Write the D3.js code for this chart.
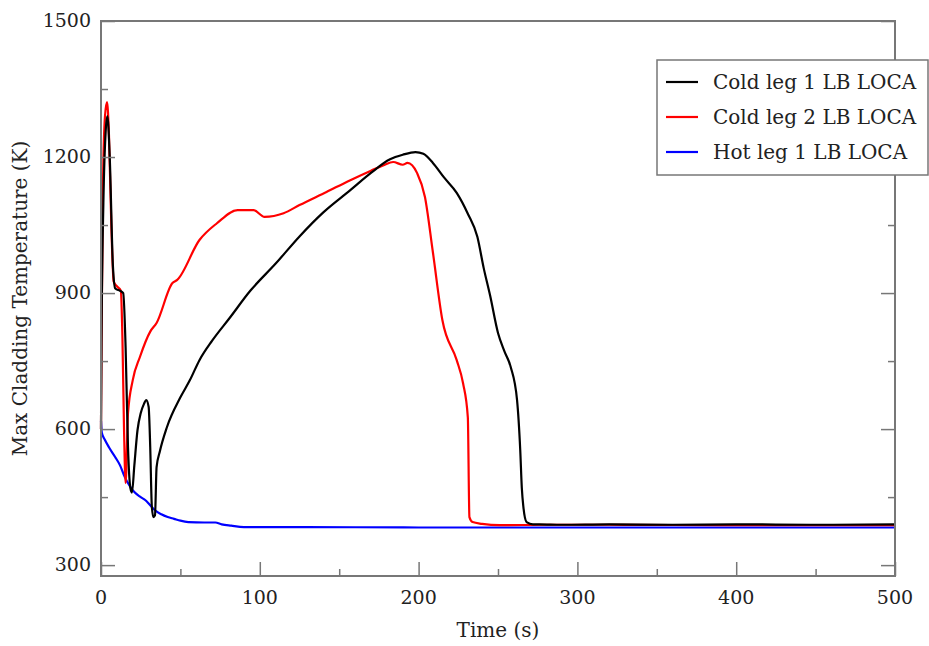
<!DOCTYPE html>
<html>
<head>
<meta charset="utf-8">
<script src="https://cdn.jsdelivr.net/npm/d3@7"></script>
<style>
  html, body { margin: 0; padding: 0; background: #fff; overflow: hidden; }
  svg { display: block; }
  text { font-family: "DejaVu Serif", serif; fill: #222; }
</style>
</head>
<body>
<svg width="929" height="646"></svg>
<script>
const svg = d3.select('svg')

// data
const seriesNames = ['Cold leg 1 LB LOCA', 'Cold leg 2 LB LOCA', 'Hot leg 1 LB LOCA']
const seriesColors = ['#000000', '#ff0000', '#0000ff']

const coldLeg1Time = [0, 0.3, 1.5, 3, 4, 5.5, 7.5, 9, 12, 14, 15.5, 17, 18.5, 19.5, 21, 23, 25, 27, 28.5, 30, 31, 32, 33, 34, 35, 37, 41.5, 50, 56, 62, 70, 81, 94, 110, 125, 140, 157, 170, 182, 190, 198, 203, 209, 216, 224, 231, 237, 241, 245, 250, 254, 258, 262, 264, 265, 266, 268, 272, 276, 290, 320, 360, 400, 450, 500]
const coldLeg1Temp = [600, 790, 1100, 1260, 1290, 1200, 960, 910, 905, 900, 780, 560, 470, 460, 520, 598, 635, 655, 664, 649, 560, 430, 406, 410, 516, 550, 604, 670, 708, 752, 795, 845, 905, 965, 1025, 1078, 1127, 1165, 1195, 1205, 1211, 1207, 1187, 1155, 1121, 1075, 1024, 955, 895, 812, 772, 737, 664, 554, 470, 428, 395, 390, 390, 389, 390, 389, 390, 389, 390]

const coldLeg2Time = [0, 0.3, 1.3, 2.5, 3.8, 5, 6.5, 8, 10, 12.5, 13.5, 14.5, 15.5, 17, 20, 24.5, 31, 35, 45, 48, 62, 73, 86, 96, 103, 115, 125, 142, 157, 170, 178, 184, 190, 193, 199, 204, 209, 215, 224, 228, 231, 232, 234, 240, 251, 280, 320, 400, 500]
const coldLeg2Temp = [600, 790, 1150, 1290, 1321, 1250, 1050, 925, 915, 905, 800, 600, 481, 635, 708, 759, 815, 834, 922, 929, 1017, 1054, 1083, 1083, 1068, 1076, 1094, 1123, 1149, 1170, 1182, 1189, 1183, 1187, 1165, 1112, 990, 840, 752, 701, 626, 406, 395, 391, 388, 389, 389, 388, 388]

const hotLeg1Time = [0, 0.5, 2.5, 5, 9, 12, 15, 18, 21, 25, 28, 31, 34, 38, 42, 46, 50, 55, 65, 72, 76, 82, 90, 120, 200, 300, 400, 500]
const hotLeg1Temp = [618, 592, 576, 560, 538, 520, 494, 475, 461, 450, 443, 432, 421, 412, 406, 402, 398, 395, 394, 394, 390, 387, 384, 384, 383, 383, 383, 383]

const xTicks = [0, 100, 200, 300, 400, 500]
const xMinor = [50, 150, 250, 350, 450]
const yTicks = [300, 600, 900, 1200, 1500]
const yMinor = [450, 750, 1050, 1350]

const series = [
  { name: seriesNames[0], color: seriesColors[0], t: coldLeg1Time, v: coldLeg1Temp },
  { name: seriesNames[1], color: seriesColors[1], t: coldLeg2Time, v: coldLeg2Temp },
  { name: seriesNames[2], color: seriesColors[2], t: hotLeg1Time, v: hotLeg1Temp }
]

const margin = { top: 21, right: 34, bottom: 70, left: 101 }
const innerWidth = 929 - margin.left - margin.right
const innerHeight = 646 - margin.top - margin.bottom

const xScale = d3.scaleLinear().domain([0, 500]).range([0, innerWidth])
const yScale = d3.scaleLinear().domain([276, 1500]).range([innerHeight, 0])

const g = svg.append('g').attr('transform', `translate(${margin.left},${margin.top})`)

const line = d3.line()
  .x(d => xScale(d[0]))
  .y(d => yScale(d[1]))
  .curve(d3.curveMonotoneX)

// curves, hot leg first so cold legs sit on top
series.slice().reverse().forEach(s => {
  g.append('path')
    .datum(s.t.map((t, i) => [t, s.v[i]]))
    .attr('fill', 'none')
    .attr('stroke', s.color)
    .attr('stroke-width', 2.2)
    .attr('stroke-linejoin', 'round')
    .attr('d', line)
})

const axisColor = '#777'
const tickStyle = sel => {
  sel.select('.domain').remove()
  sel.selectAll('text').remove()
  sel.selectAll('line').attr('stroke', axisColor).attr('stroke-width', 1.5)
}

// inward ticks on left, right and bottom
const tickAxes = [
  [d3.axisLeft(yScale).tickValues(yTicks).tickSize(-14), 0, 0],
  [d3.axisLeft(yScale).tickValues(yMinor).tickSize(-7), 0, 0],
  [d3.axisRight(yScale).tickValues(yTicks).tickSize(-14), innerWidth, 0],
  [d3.axisRight(yScale).tickValues(yMinor).tickSize(-7), innerWidth, 0],
  [d3.axisBottom(xScale).tickValues(xTicks).tickSize(-14), 0, innerHeight],
  [d3.axisBottom(xScale).tickValues(xMinor).tickSize(-7), 0, innerHeight]
]
tickAxes.forEach(([axis, tx, ty]) => {
  g.append('g')
    .attr('transform', `translate(${tx},${ty})`)
    .call(axis)
    .call(tickStyle)
})

// tick labels
g.append('g').selectAll('text').data(yTicks)
  .enter().append('text')
    .attr('x', -10)
    .attr('y', d => yScale(d) + 6)
    .attr('text-anchor', 'end')
    .attr('font-size', 19)
    .text(d => d)

g.append('g').selectAll('text').data(xTicks)
  .enter().append('text')
    .attr('x', d => xScale(d))
    .attr('y', innerHeight + 28)
    .attr('text-anchor', 'middle')
    .attr('font-size', 19)
    .text(d => d)

// frame
g.append('rect')
  .attr('width', innerWidth)
  .attr('height', innerHeight)
  .attr('fill', 'none')
  .attr('stroke', axisColor)
  .attr('stroke-width', 2)

// axis titles
svg.append('text')
  .attr('x', margin.left + innerWidth / 2)
  .attr('y', 637)
  .attr('text-anchor', 'middle')
  .attr('font-size', 20)
  .text('Time (s)')

svg.append('text')
  .attr('transform', `translate(27,${margin.top + innerHeight / 2}) rotate(-90)`)
  .attr('text-anchor', 'middle')
  .attr('font-size', 20)
  .text('Max Cladding Temperature  (K)')

// legend
const legend = svg.append('g').attr('transform', 'translate(657,60)')
legend.append('rect')
  .attr('width', 271)
  .attr('height', 115)
  .attr('fill', '#fff')
  .attr('stroke', axisColor)
  .attr('stroke-width', 1.5)

series.forEach((s, i) => {
  const row = legend.append('g').attr('transform', `translate(0,${22 + i * 35})`)
  row.append('line')
    .attr('x1', 9).attr('x2', 41)
    .attr('stroke', s.color)
    .attr('stroke-width', 2.2)
  row.append('text')
    .attr('x', 56)
    .attr('y', 7)
    .attr('font-size', 20)
    .text(s.name)
})
</script>
</body>
</html>
